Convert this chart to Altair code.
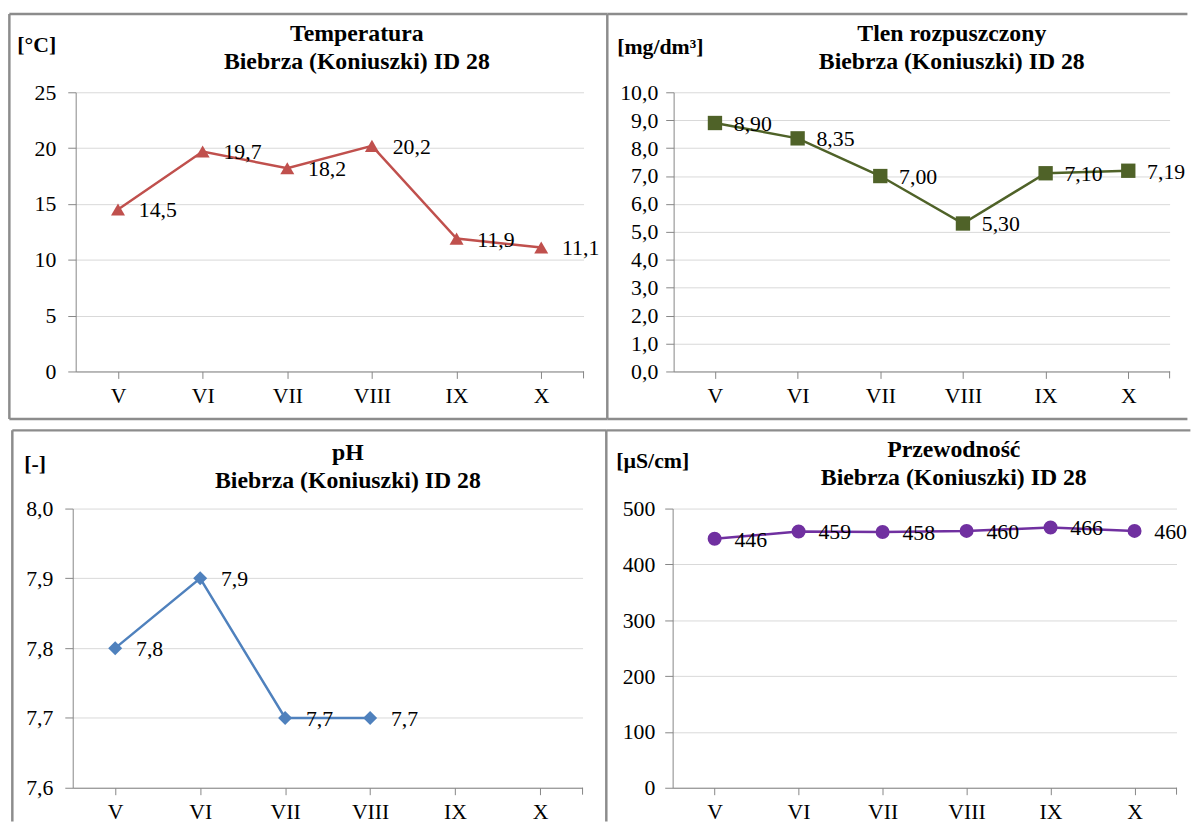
import altair as alt
import pandas as pd

# ---------------- data ----------------
months = ["V", "VI", "VII", "VIII", "IX", "X"]
temperature = [14.5, 19.7, 18.2, 20.2, 11.9, 11.1]
oxygen = [8.90, 8.35, 7.00, 5.30, 7.10, 7.19]
ph_months = ["V", "VI", "VII", "VIII"]
ph_values = [7.8, 7.9, 7.7, 7.7]
conductivity = [446, 459, 458, 460, 466, 460]

temp_ticks = [0, 5, 10, 15, 20, 25]
oxy_ticks = [0, 1, 2, 3, 4, 5, 6, 7, 8, 9, 10]
ph_ticks = [7.6, 7.7, 7.8, 7.9, 8.0]
cond_ticks = [0, 100, 200, 300, 400, 500]

station = "Biebrza (Koniuszki) ID 28"

FONT = "Liberation Serif"
BORDER = "#8C8C8C"
AXIS_GRAY = "#868686"


def fmt(v, d):
    return f"{v:.{d}f}".replace(".", ",")


def one_row():
    return pd.DataFrame({"k": [0]})


def hrule(x1, x2, y):
    return alt.Chart(one_row()).mark_rule(color=BORDER, strokeWidth=2.5).encode(
        x=alt.value(x1), x2=alt.value(x2), y=alt.value(y)
    )


def vrule(x, y1, y2, color=BORDER, sw=2.5):
    return alt.Chart(one_row()).mark_rule(color=color, strokeWidth=sw).encode(
        x=alt.value(x), y=alt.value(y1), y2=alt.value(y2)
    )


def panel(cats, values, decimals, color, shape, size, domain, ticks, tick_dec,
          title_lines, unit, width, height, title_x, title_y, unit_x, unit_y,
          borders, label_pad, label_dx=21):
    df = pd.DataFrame({
        "month": cats,
        "value": values,
        "label": [fmt(v, decimals) for v in values],
    })
    if tick_dec:
        lexpr = f"replace(format(datum.value, '.{tick_dec}f'), '.', ',')"
    else:
        lexpr = "format(datum.value, 'd')"
    x = alt.X(
        "month:N",
        sort=months,
        scale=alt.Scale(type="point", domain=months, padding=0.5),
        axis=alt.Axis(title=None, labelAngle=0, grid=False, tickSize=7,
                      labelPadding=7, domainColor=AXIS_GRAY, tickColor=AXIS_GRAY),
    )
    y = alt.Y(
        "value:Q",
        scale=alt.Scale(domain=domain, nice=False, zero=False),
        axis=alt.Axis(title=None, values=ticks, labelExpr=lexpr, grid=True,
                      tickSize=8, labelPadding=label_pad, domainColor=AXIS_GRAY,
                      tickColor=AXIS_GRAY, gridColor="#D9D9D9"),
    )
    base = alt.Chart(df).encode(x=x, y=y)
    line = base.mark_line(color=color, strokeWidth=2.5)
    pts = base.mark_point(shape=shape, size=size, filled=True, color=color, opacity=1)
    labels = base.mark_text(align="left", baseline="middle", dx=label_dx, dy=1,
                            font=FONT, fontSize=22, color="black").encode(text="label:N")
    title = alt.Chart(one_row()).mark_text(
        text=title_lines, font=FONT, fontSize=24, fontWeight="bold",
        lineHeight=28, align="center", baseline="middle", color="black"
    ).encode(x=alt.value(title_x), y=alt.value(title_y))
    unit_t = alt.Chart(one_row()).mark_text(
        text=unit, font=FONT, fontSize=22, fontWeight="bold",
        align="left", baseline="middle", color="black"
    ).encode(x=alt.value(unit_x), y=alt.value(unit_y))
    end_tick = vrule(width, height, height + 7, AXIS_GRAY, 1)
    layers = borders + [end_tick, title, unit_t, line, pts, labels]
    return alt.layer(*layers).properties(width=width, height=height)


H = 282

tl = panel(months, temperature, 1, "#C0504D", "triangle-up", 200,
           [0, 25], temp_ticks, 0,
           ["Temperatura", station], "[°C]",
           513, H, 284, -59, -59, -48,
           [hrule(-67, 537, -79), hrule(-67, 537, 330),
            vrule(-67, -79, 330), vrule(537, -79, 330)], 12)

tr = panel(months, oxygen, 2, "#4F6228", "square", 210,
           [0, 10], oxy_ticks, 1,
           ["Tlen rozpuszczony", station], "[mg/dm³]",
           501, H, 281, -59, -57, -46,
           [hrule(-67, 519, -79), hrule(-67, 519, 330)], 8, 19)

bl = panel(ph_months, ph_values, 1, "#4F81BD", "diamond", 200,
           [7.6, 8.0], ph_ticks, 1,
           ["pH", station], "[-]",
           515, H, 278, -56, -49, -45,
           [hrule(-61, 539, -79), vrule(-61, -79, 316), vrule(539, -79, 316)], 12)

br = panel(months, conductivity, 0, "#7030A0", "circle", 200,
           [0, 500], cond_ticks, 0,
           ["Przewodność", station], "[µS/cm]",
           509, H, 284, -59, -57, -48,
           [hrule(-67, 523, -79)], 10, 20)

row1 = alt.hconcat(tl, tr, spacing=91, bounds="flush")
row2 = alt.hconcat(bl, br, spacing=91, bounds="flush")

chart = alt.vconcat(row1, row2, spacing=7.5, bounds="full", center=True).properties(
    padding={"left": 0, "top": 0, "right": 0, "bottom": 0}
).configure_view(stroke=None).configure_axis(
    labelFont=FONT, labelFontSize=22, labelColor="black"
)

chart.save("out.html", embed_options={"renderer": "svg", "actions": False})
